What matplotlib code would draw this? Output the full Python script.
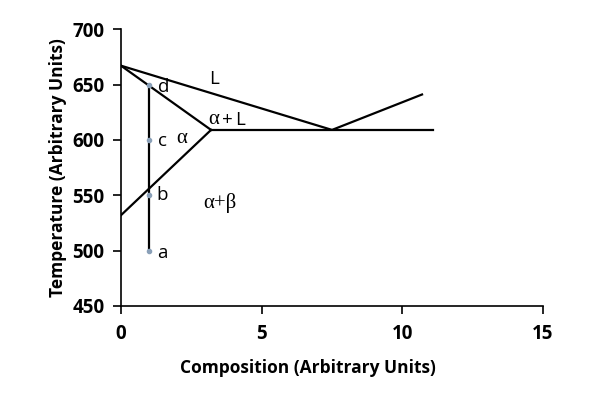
import matplotlib.pyplot as plt

# phase boundaries (composition, temperature)
liquidus_x = [0.0, 7.5, 10.7]
liquidus_y = [667, 609, 641]
solidus_x = [0.0, 3.2]
solidus_y = [667, 609]
solvus_x = [0.0, 3.2]
solvus_y = [532, 609]
eutectic_x = [3.2, 11.1]
eutectic_y = [609, 609]

# cooling path at composition 1
path_x = [1, 1, 1, 1]
path_y = [500, 550, 600, 650]

# latin labels (sans) and greek labels (serif)
sans_labels = ["d", "c", "b", "a", "L", "+", "L"]
sans_x = [1.52, 1.47, 1.47, 1.47, 3.3, 3.78, 4.24]
sans_y = [648, 599, 550, 498, 655, 618, 618]
greek_labels = ["α", "α", "α+β"]
greek_x = [3.3, 2.17, 3.5]
greek_y = [618, 601, 543]

fig = plt.figure(figsize=(6.0, 3.94), dpi=100)
ax = fig.add_axes([0.2017, 0.2234, 0.7033, 0.7026])

LW = 1.6
ax.plot(liquidus_x, liquidus_y, color="black", lw=LW)
ax.plot(solidus_x, solidus_y, color="black", lw=LW)
ax.plot(solvus_x, solvus_y, color="black", lw=LW)
ax.plot(eutectic_x, eutectic_y, color="black", lw=LW)
ax.plot(path_x, path_y, color="black", lw=LW, marker="o", markersize=3,
        markerfacecolor="#8aa0b8", markeredgecolor="#8aa0b8")

for t, x, y in zip(sans_labels, sans_x, sans_y):
    ax.text(x, y, t, fontsize=13.5, ha="center", va="center",
            family="Open Sans")
for t, x, y in zip(greek_labels, greek_x, greek_y):
    ax.text(x, y, t, fontsize=15, ha="center", va="center",
            family="Liberation Serif")

ax.set_xlim(0, 15)
ax.set_ylim(450, 700)
ax.set_xticks([0, 5, 10, 15])
ax.set_yticks([450, 500, 550, 600, 650, 700])
for s in ["top", "right"]:
    ax.spines[s].set_visible(False)
for s in ["left", "bottom"]:
    ax.spines[s].set_linewidth(1.2)
ax.tick_params(direction="out", length=6, width=1.2, labelsize=13.5)
ax.tick_params(axis="x", pad=7)
ax.tick_params(axis="y", pad=6)
for lab in ax.get_xticklabels() + ax.get_yticklabels():
    lab.set_fontweight("bold")
    lab.set_family("Open Sans")

ax.set_xlabel("Composition (Arbitrary Units)", fontsize=12.5,
              fontweight="bold", family="Open Sans", labelpad=8)
ax.xaxis.set_label_coords(0.442, -0.19)
ax.set_ylabel("Temperature (Arbitrary Units)", fontsize=12.5,
              fontweight="bold", family="Open Sans", labelpad=4)

fig.savefig("out.png", dpi=100)
